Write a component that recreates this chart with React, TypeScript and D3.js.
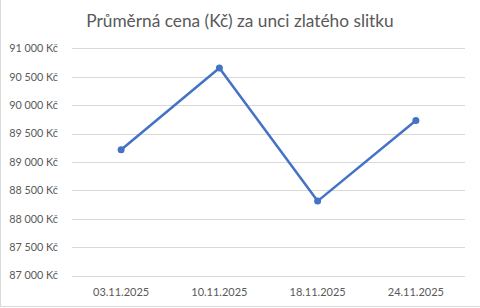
import React from "react";
import * as d3 from "d3";

const categories = ["03.11.2025", "10.11.2025", "18.11.2025", "24.11.2025"];
const values = [89217, 90653, 88312, 89729];
const yTicks = [87000, 87500, 88000, 88500, 89000, 89500, 90000, 90500, 91000];
const title = "Průměrná cena (Kč) za unci zlatého slitku";

const W = 480;
const H = 308;
const FONT = "Lato, 'Open Sans', sans-serif";

export default function App() {
  const x = d3.scaleBand<string>().domain(categories).range([72, 465]);
  const y = d3.scaleLinear().domain([87000, 91000]).range([275.7, 48.3]);
  const fmt = (v: number) => d3.format(",")(v).replace(/,/g, "\u00a0") + " Kč";
  const line = d3
    .line<number>()
    .x((_, i) => (x(categories[i]) as number) + x.bandwidth() / 2)
    .y((d) => y(d));

  return (
    <svg
      width={W}
      height={H}
      style={{ position: "fixed", left: 0, top: 0, background: "#fff" }}
    >
      <rect x={0} y={0} width={W} height={H} fill="#fff" />
      <line x1={0.5} y1={0} x2={0.5} y2={306.5} stroke="#d9d9d9" />
      <line x1={0} y1={306.5} x2={W} y2={306.5} stroke="#d9d9d9" />
      <text
        x={240}
        y={27}
        textAnchor="middle"
        fontFamily={FONT}
        fontSize={17.3}
        fill="#595959"
      >
        {title}
      </text>
      {yTicks.map((t) => (
        <g key={t}>
          <line
            x1={72}
            x2={465}
            y1={Math.round(y(t)) + 0.5}
            y2={Math.round(y(t)) + 0.5}
            stroke="#d9d9d9"
            strokeWidth={1}
          />
          <text
            x={58}
            y={y(t)}
            dy="0.35em"
            textAnchor="end"
            fontFamily={FONT}
            fontSize={10.8}
            fill="#595959"
          >
            {fmt(t)}
          </text>
        </g>
      ))}
      {categories.map((c) => (
        <text
          key={c}
          x={(x(c) as number) + x.bandwidth() / 2}
          y={292}
          dy="0.35em"
          textAnchor="middle"
          fontFamily={FONT}
          fontSize={11}
          fill="#595959"
        >
          {c}
        </text>
      ))}
      <path
        d={line(values) as string}
        fill="none"
        stroke="#4472C4"
        strokeWidth={2.5}
        strokeLinejoin="round"
        strokeLinecap="round"
      />
      {values.map((v, i) => (
        <circle
          key={i}
          cx={(x(categories[i]) as number) + x.bandwidth() / 2}
          cy={y(v)}
          r={3.5}
          fill="#4472C4"
        />
      ))}
    </svg>
  );
}
